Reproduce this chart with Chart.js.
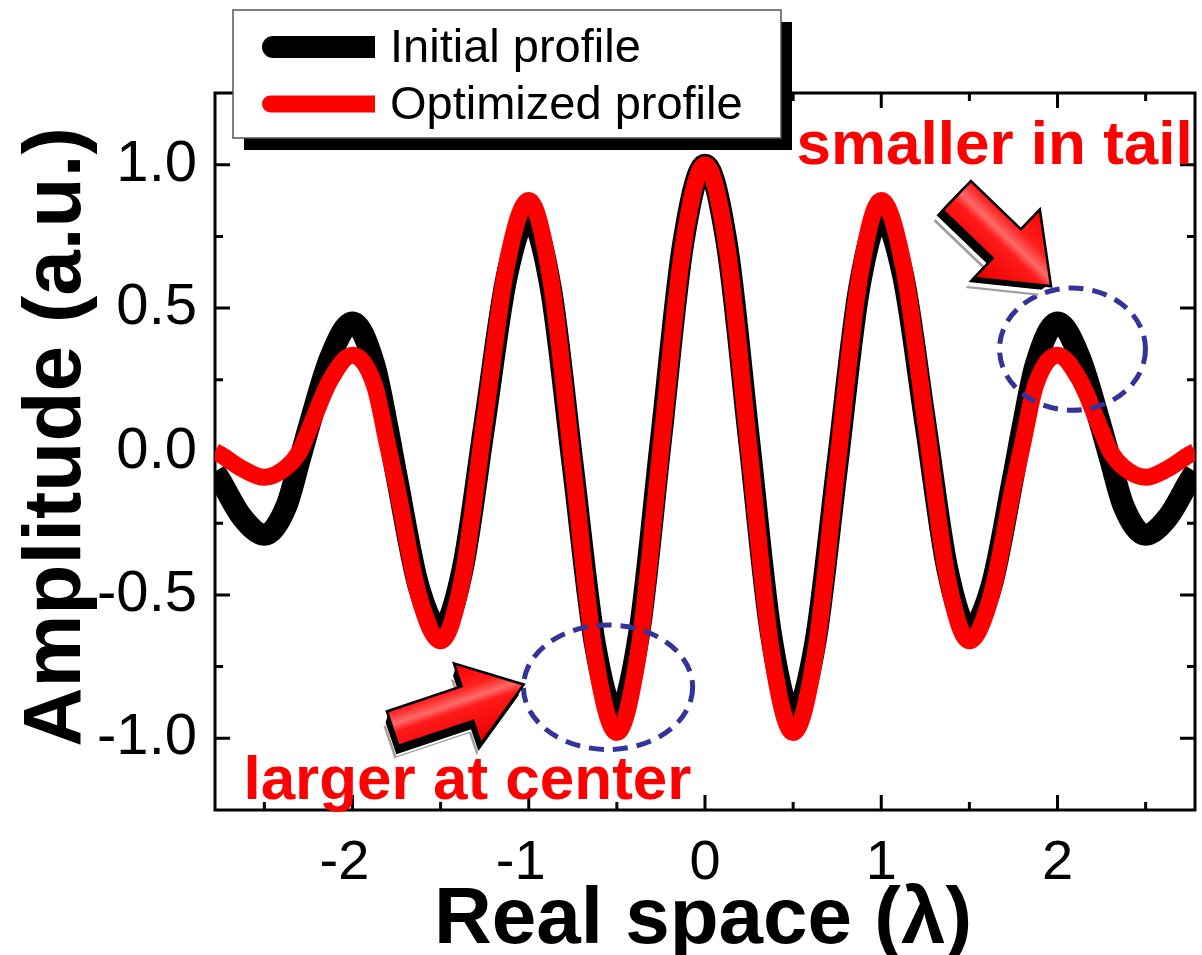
<!DOCTYPE html>
<html>
<head>
<meta charset="utf-8">
<script src="https://cdn.jsdelivr.net/npm/chart.js@4.4.1/dist/chart.umd.min.js"></script>
<style>
  html, body { margin: 0; padding: 0; background: #fff; }
</style>
</head>
<body>
<canvas id="grafico" width="1202" height="955"></canvas>
<script>
// positions along the beam (in wavelengths)
const positions = [
  -2.78, -2.75, -2.625, -2.5, -2.375, -2.3, -2.25, -2.125, -2.0, -1.875, -1.8, -1.75, -1.625,
  -1.5, -1.375, -1.25, -1.125, -1.0, -0.875, -0.75, -0.625, -0.5, -0.375, -0.25, -0.125,
  0,
  0.125, 0.25, 0.375, 0.5, 0.625, 0.75, 0.875, 1.0, 1.125, 1.25, 1.375, 1.5,
  1.625, 1.75, 1.8, 1.875, 2.0, 2.125, 2.25, 2.3, 2.375, 2.5, 2.625, 2.75, 2.78
];

const initialProfile = [
  -0.07, -0.10, -0.23, -0.29, -0.19, -0.03, 0.08, 0.33, 0.45, 0.30, 0.08, -0.085, -0.47,
  -0.62, -0.41, 0.10, 0.61, 0.82, 0.57, -0.05, -0.67, -0.92, -0.64, 0.04, 0.72,
  1.0,
  0.72, 0.04, -0.64, -0.92, -0.67, -0.05, 0.57, 0.82, 0.61, 0.10, -0.41, -0.62,
  -0.47, -0.085, 0.08, 0.30, 0.45, 0.33, 0.08, -0.03, -0.19, -0.29, -0.23, -0.10, -0.07
];

const optimizedProfile = [
  0.0, -0.01, -0.06, -0.09, -0.055, 0.0, 0.07, 0.25, 0.336, 0.23, 0.02, -0.12, -0.50,
  -0.66, -0.44, 0.11, 0.65, 0.875, 0.60, -0.05, -0.71, -0.98, -0.69, 0.01, 0.71,
  1.0,
  0.71, 0.01, -0.69, -0.98, -0.71, -0.05, 0.60, 0.875, 0.65, 0.11, -0.44, -0.66,
  -0.50, -0.12, 0.02, 0.23, 0.336, 0.25, 0.07, 0.0, -0.055, -0.09, -0.06, -0.01, 0.0
];

const seriesNames = ['Initial profile', 'Optimized profile'];

const xMajorTicks = [-2, -1, 0, 1, 2];
const xMinorTicks = [-2.5, -1.5, -0.5, 0.5, 1.5, 2.5];
const yMajorTicks = [-1.0, -0.5, 0.0, 0.5, 1.0];
const yMinorTicks = [-0.75, -0.25, 0.25, 0.75];

const FONT = "'Liberation Sans', Arial, Helvetica, sans-serif";

// marked regions, arrows and notes (data coordinates)
const tailMark = { x: 2.085, y: 0.357, rx: 0.414, ry: 0.213 };
const centerMark = { x: -0.55, y: -0.822, rx: 0.48, ry: 0.217 };
const tailArrow = { from: [1.434, 0.889], to: [1.955, 0.581] };
const centerArrow = { from: [-1.765, -0.965], to: [-1.04, -0.815] };
const tailNote = { text: 'smaller in tail', x: 1.643, y: 1.003 };
const centerNote = { text: 'larger at center', x: -1.348, y: -1.213 };

function toPoints(ys) {
  return positions.map(function (x, i) { return { x: x, y: ys[i] }; });
}

// draws a 3D-looking block arrow from (x0,y0) to (x1,y1) in pixels
function drawArrow(ctx, x0, y0, x1, y1, shaft, head, headLen, extrude, shadow) {
  const ang = Math.atan2(y1 - y0, x1 - x0);
  const len = Math.hypot(x1 - x0, y1 - y0);
  const c = Math.cos(ang), s = Math.sin(ang);
  const pts = [[0, -shaft], [len - headLen, -shaft], [len - headLen, -head], [len, 0],
               [len - headLen, head], [len - headLen, shaft], [0, shaft]];
  function path(dx, dy) {
    ctx.beginPath();
    pts.forEach(function (p, i) {
      const px = x0 + dx + p[0] * c - p[1] * s;
      const py = y0 + dy + p[0] * s + p[1] * c;
      if (i === 0) ctx.moveTo(px, py); else ctx.lineTo(px, py);
    });
    ctx.closePath();
  }
  ctx.save();
  ctx.lineJoin = 'miter';
  // grey shadow
  ctx.fillStyle = '#a0a0a0';
  path(shadow[0], shadow[1]);
  ctx.fill();
  ctx.fillStyle = '#ffffff';
  path(shadow[0] - 2 * Math.sign(shadow[0] - extrude[0]), shadow[1] - 2 * Math.sign(shadow[1] - extrude[1]));
  ctx.fill();
  // black body
  ctx.fillStyle = '#000';
  for (let k = 0; k <= 10; k++) {
    path(extrude[0] * k / 10, extrude[1] * k / 10);
    ctx.fill();
  }
  ctx.strokeStyle = '#000';
  ctx.lineWidth = 5;
  path(0, 0);
  ctx.stroke();
  // red face
  const g = ctx.createLinearGradient(x0 + head * s, y0 - head * c, x0 - head * s, y0 + head * c);
  g.addColorStop(0, '#ff0000');
  g.addColorStop(0.3, '#ff2020');
  g.addColorStop(0.45, '#ff6a6a');
  g.addColorStop(0.55, '#ff1a1a');
  g.addColorStop(1, '#e80000');
  ctx.fillStyle = g;
  path(0, 0);
  ctx.fill();
  ctx.restore();
}

const decorations = {
  id: 'decorations',
  beforeDatasetsDraw: function (chart) {
    const ctx = chart.ctx;
    const a = chart.chartArea;
    const xs = chart.scales.x, ys = chart.scales.y;
    ctx.save();
    ctx.strokeStyle = '#000';
    ctx.lineWidth = 3;
    ctx.strokeRect(a.left, a.top, a.right - a.left, a.bottom - a.top);
    ctx.beginPath();
    function xTick(v, len) {
      const px = xs.getPixelForValue(v);
      ctx.moveTo(px, a.bottom); ctx.lineTo(px, a.bottom - len);
      ctx.moveTo(px, a.top); ctx.lineTo(px, a.top + len);
    }
    function yTick(v, len) {
      const py = ys.getPixelForValue(v);
      ctx.moveTo(a.left, py); ctx.lineTo(a.left + len, py);
      ctx.moveTo(a.right, py); ctx.lineTo(a.right - len, py);
    }
    xMajorTicks.forEach(function (v) { xTick(v, 15); });
    xMinorTicks.forEach(function (v) { xTick(v, 8); });
    yMajorTicks.forEach(function (v) { yTick(v, 15); });
    yMinorTicks.forEach(function (v) { yTick(v, 8); });
    ctx.stroke();

    // x tick labels
    ctx.fillStyle = '#000';
    ctx.font = '56px ' + FONT;
    ctx.textAlign = 'center';
    ctx.textBaseline = 'alphabetic';
    xMajorTicks.forEach(function (v) {
      ctx.fillText(String(v), xs.getPixelForValue(v) - (v < 0 ? 8 : 0), a.bottom + 69);
    });
    ctx.restore();
  },
  afterDraw: function (chart) {
    const ctx = chart.ctx;
    const a = chart.chartArea;
    const xs = chart.scales.x, ys = chart.scales.y;
    const px = function (v) { return xs.getPixelForValue(v); };
    const py = function (v) { return ys.getPixelForValue(v); };

    ctx.save();
    // axis titles
    ctx.fillStyle = '#000';
    ctx.font = 'bold 80px ' + FONT;
    ctx.textAlign = 'center';
    ctx.textBaseline = 'alphabetic';
    ctx.fillText('Real space (\u03bb)', (a.left + a.right) / 2 - 2, 943);
    ctx.save();
    ctx.translate(80, 437);
    ctx.rotate(-Math.PI / 2);
    ctx.font = 'bold 82px ' + FONT;
    ctx.fillText('Amplitude (a.u.)', 0, 0);
    ctx.restore();

    // dashed ellipses
    ctx.strokeStyle = '#333399';
    ctx.lineWidth = 5;
    ctx.setLineDash([15, 9]);
    [tailMark, centerMark].forEach(function (m) {
      const cx = px(m.x), cy = py(m.y);
      ctx.beginPath();
      ctx.ellipse(cx, cy, px(m.x + m.rx) - cx, cy - py(m.y + m.ry), 0, 0, Math.PI * 2);
      ctx.stroke();
    });
    ctx.setLineDash([]);

    // arrows
    drawArrow(ctx, px(tailArrow.from[0]), py(tailArrow.from[1]), px(tailArrow.to[0]), py(tailArrow.to[1]),
      19, 45, 58, [-8, 5], [-11, 11]);
    drawArrow(ctx, px(centerArrow.from[0]), py(centerArrow.from[1]), px(centerArrow.to[0]), py(centerArrow.to[1]),
      17, 40, 56, [-3, 10], [-5, 14]);

    // notes
    ctx.fillStyle = '#ff0000';
    ctx.font = 'bold 62px ' + FONT;
    ctx.textAlign = 'center';
    ctx.fillText(tailNote.text, px(tailNote.x), py(tailNote.y));
    ctx.fillText(centerNote.text, px(centerNote.x), py(centerNote.y));

    // legend box with drop shadow
    const box = { x: 233, y: 10, w: 548, h: 128 };
    ctx.fillStyle = '#000';
    ctx.fillRect(box.x + 11, box.y + 12, box.w, box.h);
    ctx.fillStyle = '#fff';
    ctx.fillRect(box.x, box.y, box.w, box.h);
    ctx.strokeStyle = '#555';
    ctx.lineWidth = 1.5;
    ctx.strokeRect(box.x, box.y, box.w, box.h);
    const rows = [47, 104];
    chart.data.datasets.forEach(function (ds, i) {
      const h = ds.borderWidth;
      const y = rows[i];
      ctx.fillStyle = ds.borderColor;
      ctx.beginPath();
      ctx.moveTo(262 + h / 2, y - h / 2);
      ctx.lineTo(375, y - h / 2);
      ctx.lineTo(375, y + h / 2);
      ctx.lineTo(262 + h / 2, y + h / 2);
      ctx.arc(262 + h / 2, y, h / 2, Math.PI / 2, Math.PI * 1.5);
      ctx.fill();
      ctx.fillStyle = '#000';
      ctx.font = '47px ' + FONT;
      ctx.textAlign = 'left';
      ctx.textBaseline = 'middle';
      ctx.fillText(ds.label, 390, y + 2);
    });
    ctx.restore();
  }
};

Chart.defaults.font.family = FONT;

const ctx = document.getElementById('grafico').getContext('2d');
const myChart = new Chart(ctx, {
  type: 'line',
  data: {
    datasets: [{
      label: seriesNames[0],
      data: toPoints(initialProfile),
      borderColor: '#000000',
      borderWidth: 22,
      order: 2
    }, {
      label: seriesNames[1],
      data: toPoints(optimizedProfile),
      borderColor: '#ff0000',
      borderWidth: 17,
      order: 1
    }]
  },
  options: {
    responsive: false,
    animation: false,
    layout: { padding: { top: 93, right: 7, left: 0, bottom: 0 } },
    elements: {
      point: { radius: 0 },
      line: { cubicInterpolationMode: 'monotone', borderJoinStyle: 'round', fill: false }
    },
    plugins: {
      legend: { display: false },
      tooltip: { enabled: false }
    },
    scales: {
      x: {
        type: 'linear',
        min: -2.78,
        max: 2.78,
        grid: { display: false },
        border: { display: false },
        afterBuildTicks: function (scale) {
          scale.ticks = xMajorTicks.map(function (v) { return { value: v }; });
        },
        afterFit: function (scale) { scale.height = 145; },
        ticks: { display: false }
      },
      y: {
        type: 'linear',
        min: -1.25,
        max: 1.25,
        grid: { display: false },
        border: { display: false },
        afterBuildTicks: function (scale) {
          scale.ticks = yMajorTicks.map(function (v) { return { value: v }; });
        },
        afterFit: function (scale) { scale.width = 215; },
        ticks: {
          autoSkip: false,
          padding: 10,
          color: '#000',
          font: { size: 58 },
          callback: function (v) { return v.toFixed(1); }
        }
      }
    }
  },
  plugins: [decorations]
});
</script>
</body>
</html>
